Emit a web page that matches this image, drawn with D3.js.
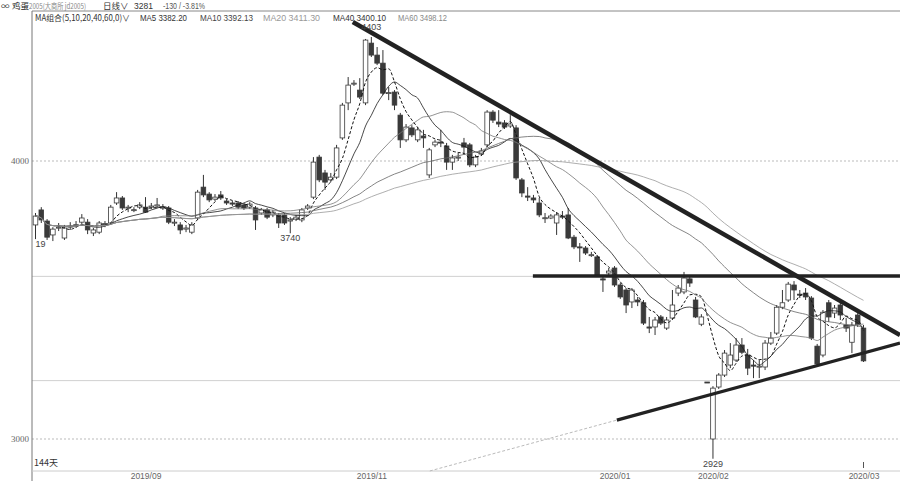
<!DOCTYPE html>
<html><head><meta charset="utf-8">
<script src="https://cdn.jsdelivr.net/npm/d3@7/dist/d3.min.js"></script>
<style>body{margin:0;background:#fff;} svg{display:block;font-family:"Noto Sans CJK SC","Liberation Sans",sans-serif;}</style>
</head><body>
<svg id="chart" width="900" height="481"></svg>
<script>
// ---- data (daily OHLC, 144 sessions) ----
const opens = [3770,3824,3784,3734,3759,3723,3762,3770,3780,3780,3741,3744,3773,3777,3849,3867,3831,3824,3834,3834,
3834,3838,3831,3831,3777,3770,3755,3744,3795,3906,3881,3863,3878,3856,3849,3849,3842,3834,3831,3813,
3824,3806,3806,3806,3784,3791,3788,3831,3870,4014,3957,3932,3942,4083,4209,4277,4255,4209,4424,4381,
4352,4244,4248,4165,4076,4119,4076,4090,3950,4058,4068,4054,3996,4011,4065,4058,3986,4025,4058,4176,
4140,4137,4126,4119,3932,3874,3867,3849,3795,3795,3777,3802,3806,3726,3691,3687,3662,3655,3576,3597,
3615,3554,3536,3493,3500,3490,3403,3403,3439,3399,3435,3525,3529,3576,3500,3413,3205,3000,3187,3230,
3266,3284,3338,3302,3266,3259,3259,3345,3381,3474,3500,3554,3521,3525,3507,3334,3302,3490,3453,3482,
3410,3348,3446,3399];
const highs = [3813,3834,3791,3762,3777,3770,3780,3784,3809,3791,3759,3784,3784,3842,3888,3874,3842,3834,3852,3870,
3849,3867,3845,3838,3791,3780,3770,3780,3896,3950,3888,3881,3892,3863,3856,3856,3849,3852,3838,3831,
3831,3824,3813,3813,3798,3806,3831,3845,4014,4022,3968,3957,4058,4209,4302,4291,4298,4439,4446,4410,
4399,4266,4255,4173,4133,4129,4122,4112,4047,4076,4112,4065,4022,4029,4083,4065,4022,4047,4183,4183,
4183,4147,4165,4129,3939,3906,3878,3867,3813,3809,3816,3820,3831,3734,3705,3694,3673,3662,3590,3615,
3622,3561,3543,3543,3511,3500,3439,3439,3446,3439,3536,3554,3601,3586,3511,3449,3205,3190,3237,3320,
3345,3363,3363,3324,3284,3284,3356,3385,3482,3536,3565,3568,3536,3543,3514,3342,3464,3500,3482,3493,
3435,3421,3453,3410];
const lows = [3719,3777,3716,3712,3748,3716,3752,3759,3773,3737,3730,3737,3762,3770,3842,3824,3816,3816,3827,3813,
3827,3831,3824,3773,3766,3737,3744,3737,3788,3870,3852,3856,3860,3842,3838,3827,3824,3827,3752,3806,
3791,3798,3759,3770,3740,3784,3780,3824,3863,3924,3896,3924,3935,4076,4183,4270,4223,4201,4374,4345,
4237,4219,4183,4047,4068,4086,4068,4047,3939,4050,4050,3968,3968,4000,4022,3978,3978,4018,4050,4137,
4122,4115,4119,3932,3870,3856,3849,3798,3777,3791,3734,3791,3719,3683,3637,3662,3655,3583,3529,3586,
3547,3504,3453,3471,3478,3410,3381,3374,3410,3392,3428,3514,3521,3547,3435,3406,3205,2929,3180,3223,
3255,3277,3305,3230,3219,3219,3248,3338,3374,3467,3493,3500,3507,3500,3356,3262,3294,3421,3435,3428,
3385,3309,3403,3277];
const closes = [3802,3788,3726,3755,3762,3759,3766,3771,3795,3752,3752,3777,3775,3834,3867,3831,3834,3825,3842,3816,
3838,3842,3834,3780,3780,3752,3759,3770,3888,3878,3860,3870,3867,3849,3845,3834,3831,3845,3788,3824,
3798,3816,3777,3777,3788,3798,3824,3838,3996,3932,3924,3942,4047,4201,4273,4280,4230,4435,4381,4352,
4244,4246,4201,4076,4122,4094,4112,4083,4040,4068,4065,3996,4011,4014,4050,3986,4014,4036,4176,4147,
4133,4122,4133,3939,3885,3870,3860,3806,3796,3802,3806,3798,3723,3691,3690,3669,3663,3586,3572,3604,
3554,3511,3482,3536,3493,3417,3399,3428,3417,3428,3482,3543,3579,3561,3439,3439,3205,3183,3230,3309,
3302,3338,3312,3255,3262,3262,3345,3363,3474,3490,3557,3536,3518,3511,3363,3270,3456,3439,3471,3446,
3399,3410,3411,3281];

const maPeriods = [5, 10, 20, 40, 60];
const maNames = ["MA5", "MA10", "MA20", "MA40", "MA60"];
const maLatest = ["3382.20", "3392.13", "3411.30", "3400.10", "3498.12"];
const yTickValues = [4000, 3000];
const refLevels = [3585, 3210];
const xTickIndex = [19, 58, 100, 117, 143];
const xTickLabels = ["2019/09", "2019/11", "2020/01", "2020/02", "2020/03"];
const markerIndex = [0, 44, 58, 117];
const markerText = ["19", "3740", "4403", "2929"];
const markerSide = ["low", "low", "high", "low"];
const titleName = "鸡蛋";
const titleCode = "2005(大商所 jd2005)";
const periodText = "日线∨";
const lastPrice = "3281";
const changeText = "-130 / -3.81%";
const maGroupText = "MA组合(5,10,20,40,60,0)∨";
const dayCountText = "144天";
// trend lines: [index, price] endpoints
const trendDown = [[54.8, 4500], [149.3, 3374]];
const trendFlat = [[85.9, 3586], [149.3, 3586]];
const trendUp = [[100.4, 3068], [149.3, 3345]];
const trendUpExt = [[68.1, 2885], [100.4, 3068]];

// ---- drawing ----
const svg = d3.select("#chart");
const n = closes.length;
const x = d3.scaleLinear().domain([0, n - 1]).range([35.5, 863.5]);
const y = d3.scaleLinear().domain([3000, 4000]).range([439, 161]);
const plotLeft = 32, plotRight = 900, plotTop = 11, axisY = 471;

// grid
svg.selectAll("line.grid").data(yTickValues).join("line")
  .attr("x1", plotLeft).attr("x2", plotRight).attr("y1", d => y(d)).attr("y2", d => y(d))
  .attr("stroke", "#aaa").attr("stroke-width", 0.8).attr("stroke-dasharray", "2,2");
svg.selectAll("line.ref").data(refLevels).join("line")
  .attr("x1", plotLeft).attr("x2", plotRight).attr("y1", d => y(d)).attr("y2", d => y(d))
  .attr("stroke", "#d0d0d0").attr("stroke-width", 1);

// frame
svg.append("line").attr("x1", plotLeft).attr("x2", plotRight).attr("y1", plotTop).attr("y2", plotTop).attr("stroke", "#888");
svg.append("line").attr("x1", plotLeft).attr("x2", plotLeft).attr("y1", plotTop).attr("y2", 481).attr("stroke", "#777");
svg.append("line").attr("x1", plotLeft).attr("x2", plotRight).attr("y1", axisY).attr("y2", axisY).attr("stroke", "#ccc");

// y axis labels
const yAxis = d3.axisLeft(y).tickValues(yTickValues).tickSize(0).tickPadding(3).tickFormat(d3.format("d"));
const gy = svg.append("g").attr("transform", `translate(${plotLeft},0)`).call(yAxis);
gy.select(".domain").remove();
gy.selectAll("text").attr("font-family", "Liberation Serif, serif").attr("font-size", 9).attr("fill", "#666");

// x axis labels
const xAxis = d3.axisBottom(x).tickValues(xTickIndex).tickSize(0).tickPadding(2)
  .tickFormat((d, k) => xTickLabels[k]);
const gx = svg.append("g").attr("transform", `translate(0,${axisY})`).call(xAxis);
gx.select(".domain").remove();
gx.selectAll("text").attr("font-family", "Liberation Sans, sans-serif").attr("font-size", 8.5).attr("fill", "#666");
svg.append("line").attr("x1", x(n - 1)).attr("x2", x(n - 1)).attr("y1", 462).attr("y2", 468).attr("stroke", "#555");

// candles
const data = d3.range(n).map(i => ({ i, o: opens[i], h: highs[i], l: lows[i], c: closes[i] }));
const bw = 4.6;
const g = svg.append("g");
g.selectAll("line.wick").data(data).join("line")
  .attr("x1", d => x(d.i)).attr("x2", d => x(d.i))
  .attr("y1", d => y(d.h)).attr("y2", d => y(d.l))
  .attr("stroke", "#333").attr("stroke-width", 1);
g.selectAll("rect.body").data(data).join("rect")
  .attr("x", d => x(d.i) - bw / 2).attr("width", bw)
  .attr("y", d => y(Math.max(d.o, d.c)))
  .attr("height", d => Math.max(1, Math.abs(y(d.o) - y(d.c))))
  .attr("fill", d => d.c > d.o ? "#fff" : "#3a3a3a")
  .attr("stroke", "#3a3a3a").attr("stroke-width", 0.8);

// moving averages
const maStyles = [
  { color: "#111", w: 1, dash: "3,2" },
  { color: "#1a1a1a", w: 0.8, dash: null },
  { color: "#777", w: 0.8, dash: null },
  { color: "#666", w: 0.8, dash: null },
  { color: "#999", w: 0.8, dash: null }
];
maPeriods.forEach((p, k) => {
  const ma = closes.map((_, i) => d3.mean(closes.slice(Math.max(0, i - p + 1), i + 1)));
  const line = d3.line().x((d, i) => x(i)).y(d => y(d)).curve(d3.curveMonotoneX);
  svg.append("path").datum(ma).attr("d", line).attr("fill", "none")
    .attr("stroke", maStyles[k].color).attr("stroke-width", maStyles[k].w)
    .attr("stroke-dasharray", maStyles[k].dash);
});

// trend lines
const tl = d3.line().x(d => x(d[0])).y(d => y(d[1]));
svg.append("path").datum(trendUpExt).attr("d", tl).attr("stroke", "#bbb").attr("stroke-width", 1).attr("stroke-dasharray", "3,2").attr("fill", "none");
svg.append("path").datum(trendDown).attr("d", tl).attr("stroke", "#222").attr("stroke-width", 4.5).attr("fill", "none");
svg.append("path").datum(trendFlat).attr("d", tl).attr("stroke", "#222").attr("stroke-width", 3.5).attr("fill", "none");
svg.append("path").datum(trendUp).attr("d", tl).attr("stroke", "#222").attr("stroke-width", 3.2).attr("fill", "none");

// high/low markers
markerIndex.forEach((mi, k) => {
  const isHigh = markerSide[k] === "high";
  const v = isHigh ? highs[mi] : lows[mi];
  svg.append("text")
    .attr("x", x(mi))
    .attr("y", isHigh ? y(v) - 7 : y(v) + 8)
    .attr("text-anchor", k === 0 ? "start" : "middle")
    .attr("font-family", "Liberation Sans, sans-serif").attr("font-size", 9).attr("fill", "#444")
    .text(markerText[k]);
});

// header
const hdr = svg.append("g").attr("font-size", 8.5);
hdr.append("text").attr("x", 1).attr("y", 8.5).attr("fill", "#333").text("∞");
hdr.append("text").attr("x", 12).attr("y", 8.5).attr("fill", "#222").text(titleName);
hdr.append("text").attr("x", 29).attr("y", 8.5).attr("fill", "#888").attr("font-size", 7.5)
  .attr("textLength", 57).attr("lengthAdjust", "spacingAndGlyphs").text(titleCode);
hdr.append("text").attr("x", 103).attr("y", 8.5).attr("fill", "#333").text(periodText);
hdr.append("text").attr("x", 134).attr("y", 8.5).attr("fill", "#333").attr("font-family", "Liberation Sans").text(lastPrice);
hdr.append("text").attr("x", 163).attr("y", 8.5).attr("fill", "#555").attr("font-family", "Liberation Sans")
  .attr("textLength", 42).attr("lengthAdjust", "spacingAndGlyphs").text(changeText);
const row2 = svg.append("g").attr("font-size", 8.5);
row2.append("text").attr("x", 35).attr("y", 20.5).attr("fill", "#333")
  .attr("textLength", 95).attr("lengthAdjust", "spacingAndGlyphs").text(maGroupText);
const maX = [140, 200, 263, 333, 398];
const maW = [47, 53, 57, 53, 49];
const maCol = ["#333", "#444", "#999", "#333", "#888"];
maNames.forEach((nm, k) => {
  row2.append("text").attr("x", maX[k]).attr("y", 20.5).attr("fill", maCol[k])
    .attr("font-family", "Liberation Sans").attr("textLength", maW[k]).attr("lengthAdjust", "spacingAndGlyphs")
    .text(nm + " " + maLatest[k]);
});

svg.append("text").attr("x", 34).attr("y", 466).attr("font-size", 9).attr("fill", "#333").text(dayCountText);
</script>
</body></html>
